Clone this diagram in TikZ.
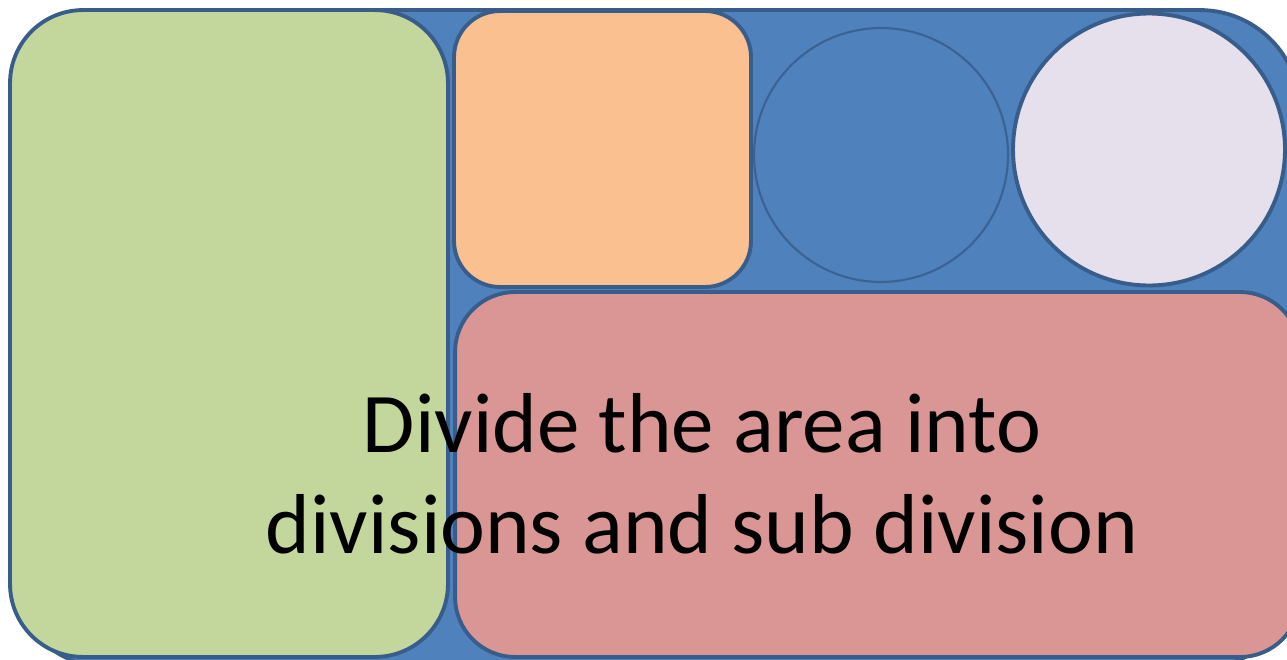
\documentclass[tikz,border=0pt]{standalone}
\usepackage{fontspec}
\setmainfont{Carlito}
\usepackage{xcolor}
\definecolor{areablue}{HTML}{4F81BD}
\definecolor{areaedge}{HTML}{385D8A}
\definecolor{divgreen}{HTML}{C3D69B}
\definecolor{divorange}{HTML}{FAC090}
\definecolor{divlilac}{HTML}{E6E0EC}
\definecolor{divred}{HTML}{D99694}

\begin{document}
\begin{tikzpicture}[
    x=0.02cm, y=-0.02cm,
    block/.style={rectangle, draw=areaedge, line width=2.2pt, inner sep=0pt},
    disc/.style ={circle, draw=areaedge, line width=2.2pt, inner sep=0pt},
]
\useasboundingbox (0,0) rectangle (1287,659);

% ── Whole area ───────────────────────────────────────────────
\node[block, fill=areablue, rounded corners=2cm,
      minimum width=25.8cm, minimum height=13.16cm] (area) at (655,339) {};

% ── Divisions ────────────────────────────────────────────────
\node[block, fill=divgreen, rounded corners=1.46cm,
      minimum width=8.76cm, minimum height=12.94cm] (west) at (229,333.5) {};
\node[block, fill=divorange, rounded corners=0.92cm,
      minimum width=5.94cm, minimum height=5.52cm] (north) at (602.5,149) {};
\node[disc, fill=areablue, draw=areaedge!85!areablue, line width=1.2pt,
      minimum size=5.08cm] (pond) at (881,155) {};
\node[disc, fill=divlilac, minimum size=5.44cm] (ring) at (1149,149.5) {};
\node[block, fill=divred, rounded corners=1.2cm,
      minimum width=16.9cm, minimum height=7.3cm] (south) at (877.5,474.5) {};

% ── Caption (base = last line) ───────────────────────────────
\node[align=center, anchor=base, inner sep=0pt,
      font=\fontsize{48.4}{57.4}\selectfont] (caption) at (702,553)
    {Divide the area into\\ divisions and sub division};

\end{tikzpicture}
\end{document}
